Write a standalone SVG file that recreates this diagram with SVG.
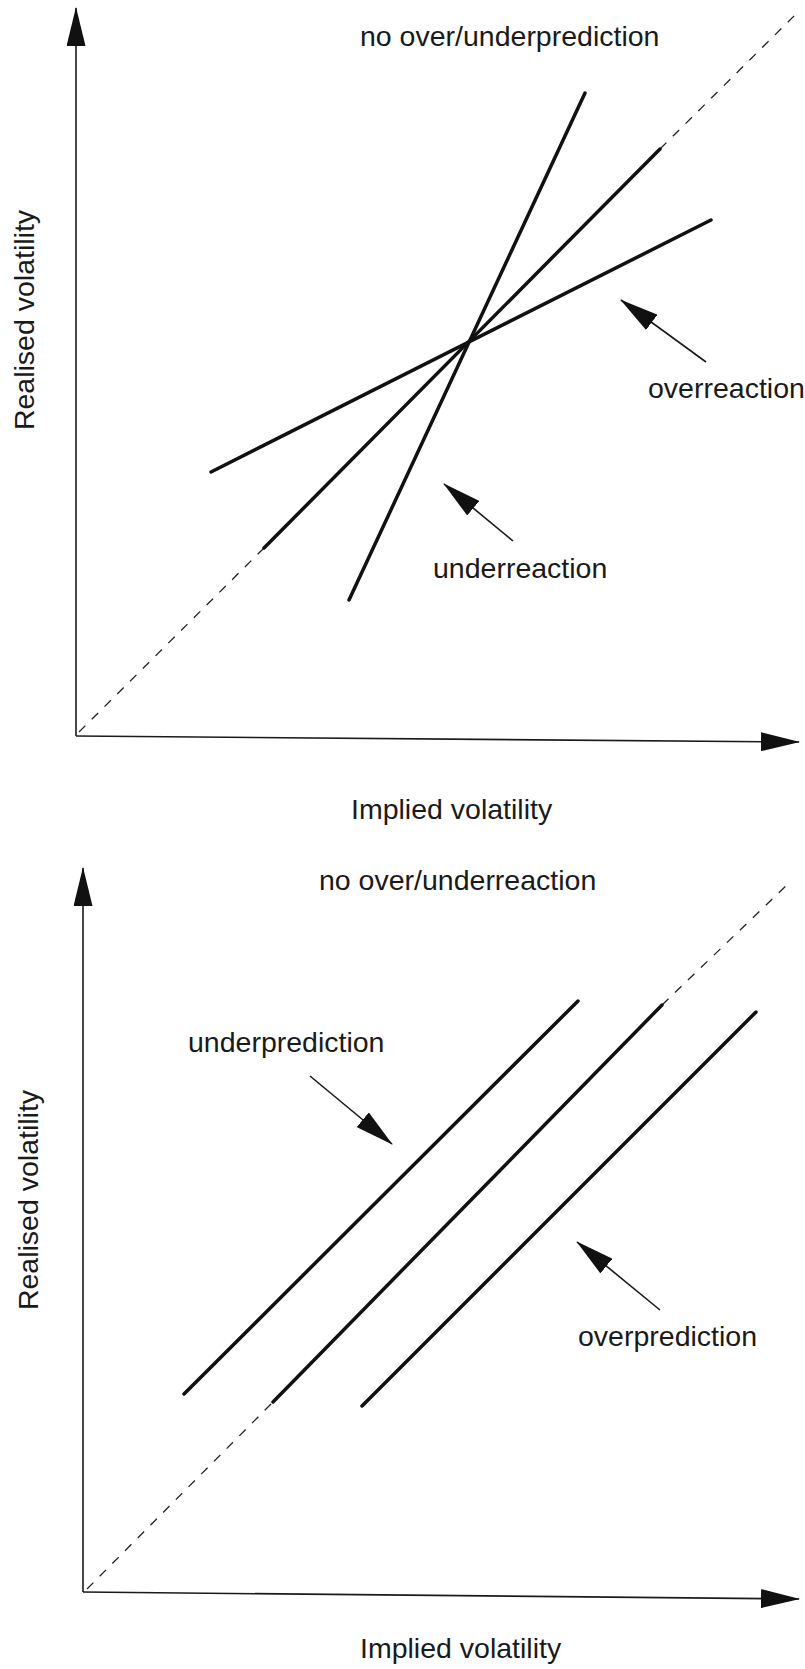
<svg xmlns="http://www.w3.org/2000/svg" width="805" height="1669" viewBox="0 0 805 1669">
<style>
.lbl{font-family:"Liberation Sans",Arial,sans-serif;font-size:28.5px;fill:#1a1a1a}
.axis{stroke:#1a1a1a;stroke-width:1.6;fill:none}
.thick{stroke:#111;stroke-width:3.5;fill:none;stroke-linecap:round}
.dash{stroke:#222;stroke-width:1.3;fill:none;stroke-dasharray:9 9}
.ptr{stroke:#1a1a1a;stroke-width:1.6;fill:none}
</style>
<defs>
<marker id="ah" viewBox="0 0 39 19" markerWidth="39" markerHeight="19" refX="38" refY="9.5" orient="auto" markerUnits="userSpaceOnUse">
<path d="M0,0 L39,9.5 L0,19 Z" fill="#111"/>
</marker>
</defs>
<rect width="805" height="1669" fill="#fff"/>

<g id="chart-top">
<g id="top-axes">
<line class="axis" x1="76" y1="736" x2="76" y2="8" marker-end="url(#ah)"/>
<line class="axis" x1="76" y1="736" x2="799" y2="742" marker-end="url(#ah)"/>
</g>
<g id="top-ylabel"><text class="lbl" transform="translate(34,320) rotate(-90)" text-anchor="middle">Realised volatility</text></g>
<g id="top-xlabel"><text class="lbl" x="351" y="819">Implied volatility</text></g>
<g id="top-title"><text class="lbl" x="360" y="46">no over/underprediction</text></g>
<g id="top-lines">
<line class="dash" x1="79" y1="732" x2="264" y2="548"/>
<line class="dash" x1="660" y1="149" x2="796" y2="14"/>
<line class="thick" x1="264" y1="548" x2="660" y2="149"/>
<line class="thick" x1="349" y1="600" x2="585" y2="93"/>
<line class="thick" x1="211" y1="472" x2="711" y2="220"/>
</g>
<g id="top-overreaction">
<line class="ptr" x1="706" y1="362" x2="621" y2="300" marker-end="url(#ah)"/>
<text class="lbl" x="648" y="398">overreaction</text>
</g>
<g id="top-underreaction">
<line class="ptr" x1="513" y1="541" x2="444" y2="484" marker-end="url(#ah)"/>
<text class="lbl" x="433" y="578">underreaction</text>
</g>
</g>

<g id="chart-bottom">
<g id="bottom-axes">
<line class="axis" x1="83" y1="1592" x2="83" y2="868" marker-end="url(#ah)"/>
<line class="axis" x1="83" y1="1592" x2="799" y2="1599" marker-end="url(#ah)"/>
</g>
<g id="bottom-ylabel"><text class="lbl" transform="translate(38,1200) rotate(-90)" text-anchor="middle">Realised volatility</text></g>
<g id="bottom-xlabel"><text class="lbl" x="360" y="1658">Implied volatility</text></g>
<g id="bottom-title"><text class="lbl" x="319" y="890">no over/underreaction</text></g>
<g id="bottom-lines">
<line class="dash" x1="87" y1="1589" x2="273" y2="1402"/>
<line class="dash" x1="662" y1="1005" x2="790" y2="882"/>
<line class="thick" x1="273" y1="1402" x2="662" y2="1005"/>
<line class="thick" x1="184" y1="1394" x2="578" y2="1001"/>
<line class="thick" x1="362" y1="1406" x2="756" y2="1012"/>
</g>
<g id="bottom-underprediction">
<text class="lbl" x="188" y="1052">underprediction</text>
<line class="ptr" x1="310" y1="1076" x2="392" y2="1144" marker-end="url(#ah)"/>
</g>
<g id="bottom-overprediction">
<line class="ptr" x1="660" y1="1310" x2="577" y2="1242" marker-end="url(#ah)"/>
<text class="lbl" x="578" y="1346">overprediction</text>
</g>
</g>
</svg>
